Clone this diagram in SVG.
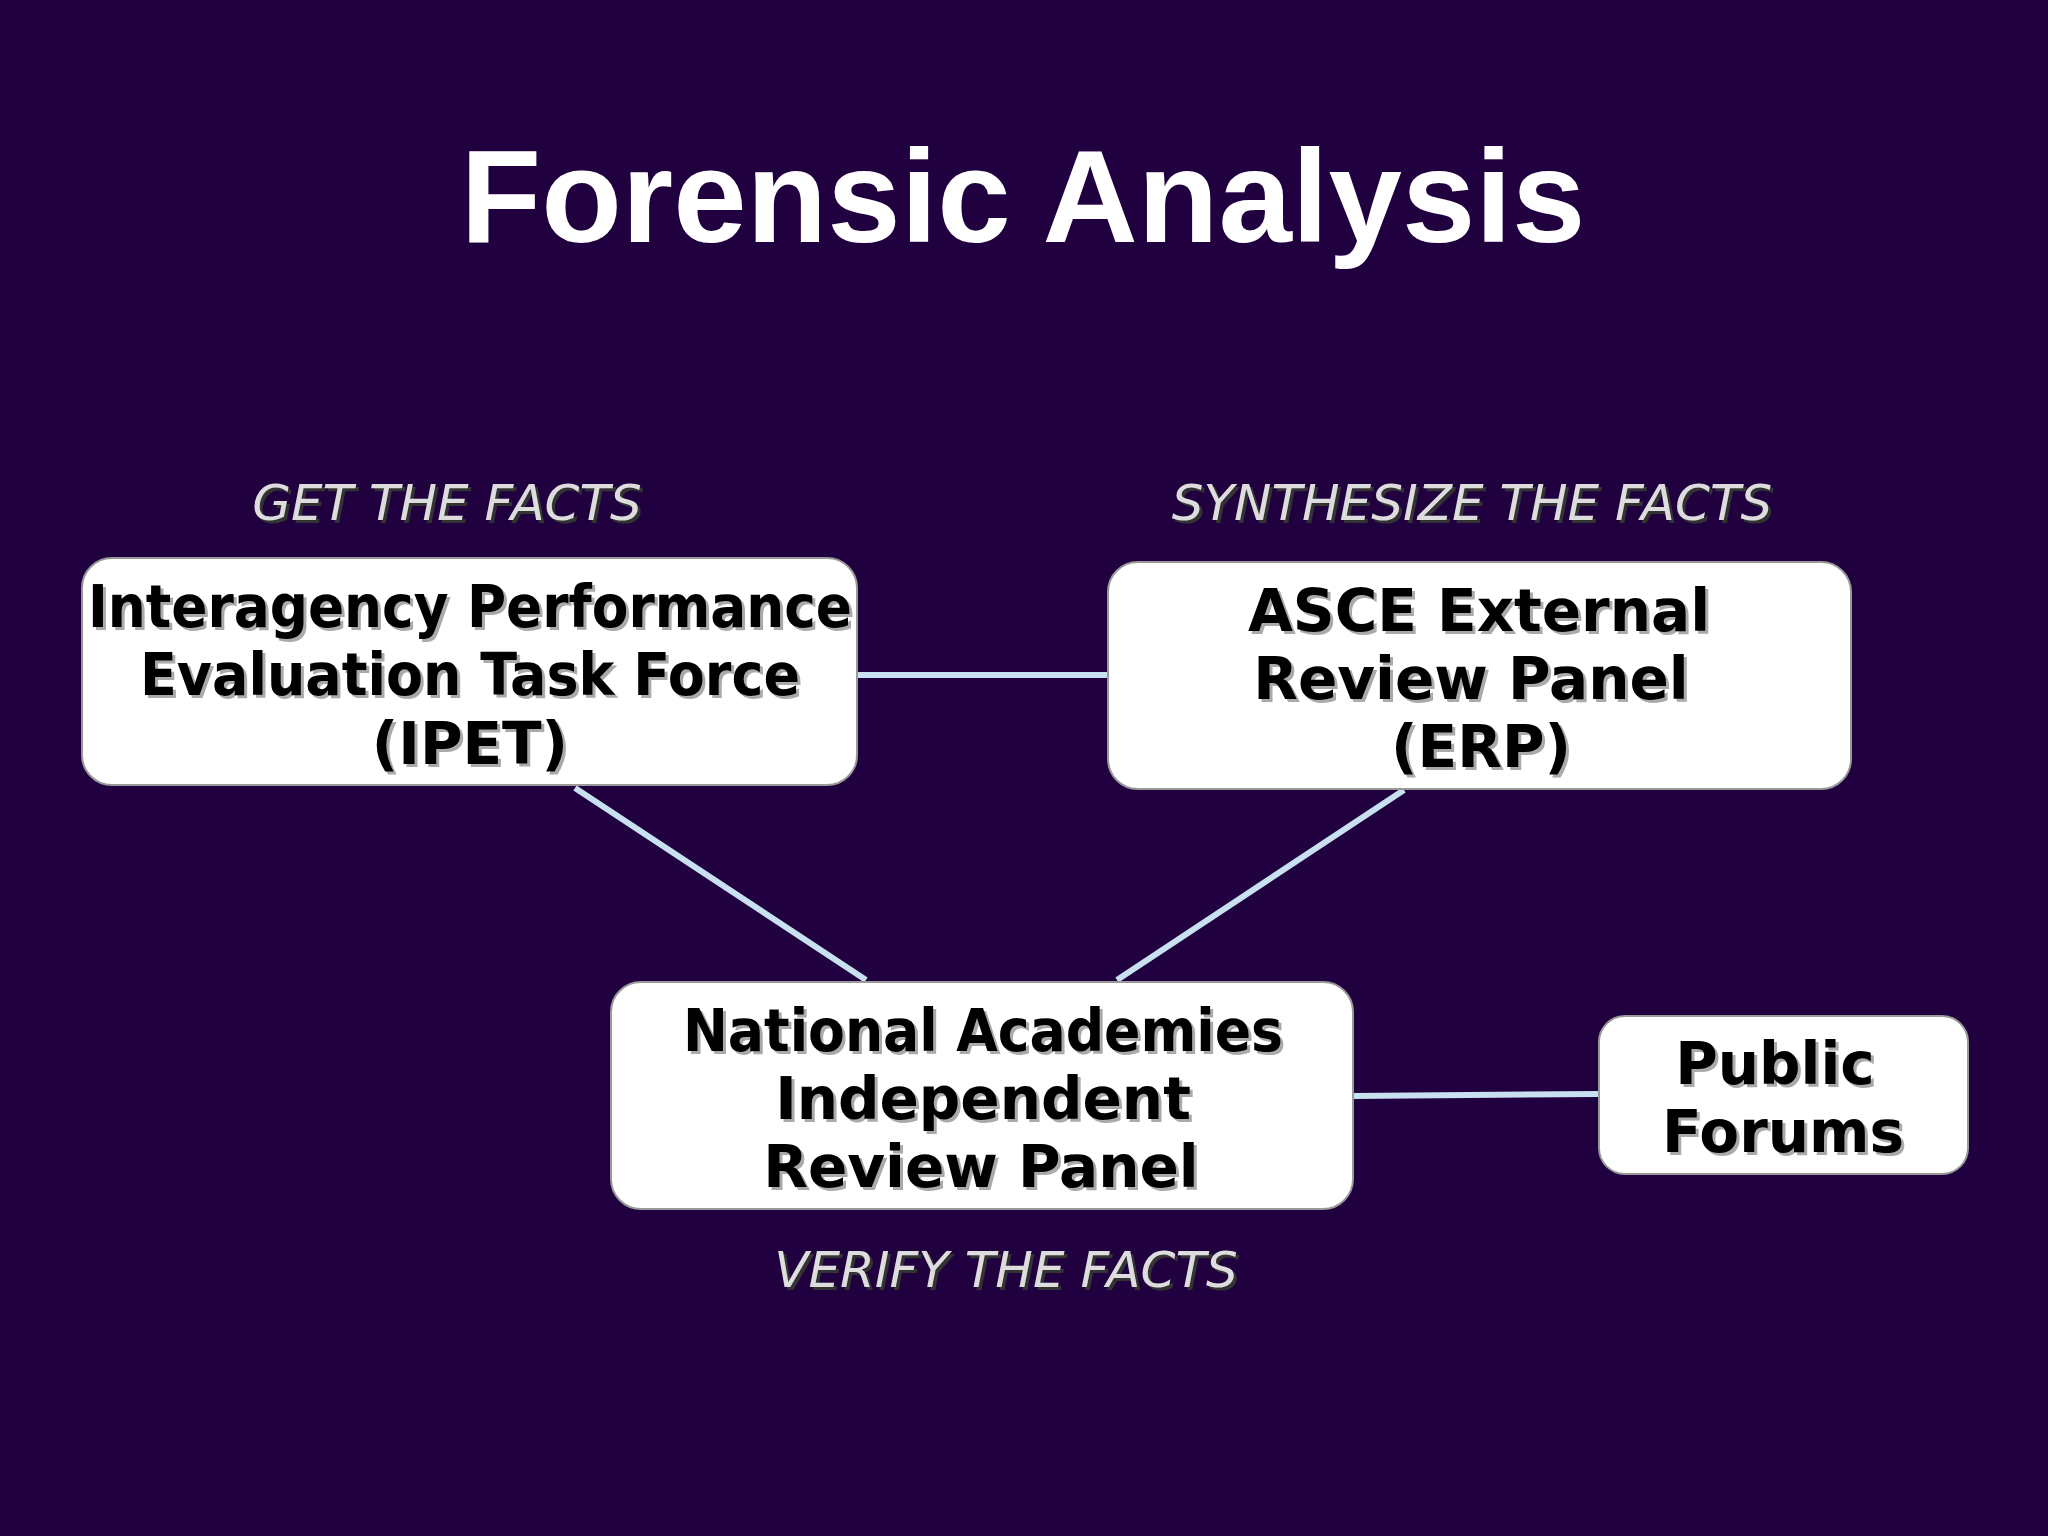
<svg xmlns="http://www.w3.org/2000/svg" width="2048" height="1536" viewBox="0 0 2048 1536">
<style>
.box{fill:#fff;stroke:#999;stroke-width:2}
.t{font-family:"DejaVu Sans",sans-serif;font-weight:bold;font-size:58px;fill:#000;text-anchor:middle}
.ts{fill:#aaa}
.lab{font-family:"DejaVu Sans",sans-serif;font-style:italic;font-size:50px;fill:#ddd;text-anchor:middle}
.labs{fill:#333}
.c{stroke:#c8e0f0;stroke-width:6}
</style>
<rect width="2048" height="1536" fill="#20003f"/>
<text x="1023" y="242" font-family="Liberation Sans,Arial,sans-serif" font-weight="bold" font-size="132" fill="#fff" text-anchor="middle">Forensic Analysis</text>
<g id="connectors">
<line class="c" x1="857" y1="675" x2="1108" y2="675"/>
<line class="c" x1="575" y1="788" x2="866" y2="980"/>
<line class="c" x1="1404" y1="790" x2="1117" y2="980"/>
<line class="c" x1="1353" y1="1096" x2="1599" y2="1094"/>
</g>
<g id="labels">
<text class="lab labs" x="450" y="523">GET THE FACTS</text>
<text class="lab" x="447" y="520">GET THE FACTS</text>
<text class="lab labs" x="1475" y="523">SYNTHESIZE THE FACTS</text>
<text class="lab" x="1472" y="520">SYNTHESIZE THE FACTS</text>
<text class="lab labs" x="1009" y="1290">VERIFY THE FACTS</text>
<text class="lab" x="1006" y="1287">VERIFY THE FACTS</text>
</g>
<g id="ipet">
<rect class="box" x="82" y="558" width="775" height="227" rx="30"/>
<text class="t ts" x="473" y="630" textLength="764" lengthAdjust="spacingAndGlyphs">Interagency Performance</text>
<text class="t" x="470" y="627" textLength="764" lengthAdjust="spacingAndGlyphs">Interagency Performance</text>
<text class="t ts" x="473" y="698" textLength="660" lengthAdjust="spacingAndGlyphs">Evaluation Task Force</text>
<text class="t" x="470" y="695" textLength="660" lengthAdjust="spacingAndGlyphs">Evaluation Task Force</text>
<text class="t ts" x="473" y="767">(IPET)</text>
<text class="t" x="470" y="764">(IPET)</text>
</g>
<g id="erp">
<rect class="box" x="1108" y="562" width="743" height="227" rx="30"/>
<text class="t ts" x="1482" y="634">ASCE External</text>
<text class="t" x="1479" y="631">ASCE External</text>
<text class="t ts" x="1474" y="702">Review Panel</text>
<text class="t" x="1471" y="699">Review Panel</text>
<text class="t ts" x="1484" y="770">(ERP)</text>
<text class="t" x="1481" y="767">(ERP)</text>
</g>
<g id="nair">
<rect class="box" x="611" y="982" width="742" height="227" rx="30"/>
<text class="t ts" x="986" y="1054" textLength="600" lengthAdjust="spacingAndGlyphs">National Academies</text>
<text class="t" x="983" y="1051" textLength="600" lengthAdjust="spacingAndGlyphs">National Academies</text>
<text class="t ts" x="986" y="1122">Independent</text>
<text class="t" x="983" y="1119">Independent</text>
<text class="t ts" x="984" y="1190">Review Panel</text>
<text class="t" x="981" y="1187">Review Panel</text>
</g>
<g id="public">
<rect class="box" x="1599" y="1016" width="369" height="158" rx="26"/>
<text class="t ts" x="1778" y="1087">Public</text>
<text class="t" x="1775" y="1084">Public</text>
<text class="t ts" x="1786" y="1155">Forums</text>
<text class="t" x="1783" y="1152">Forums</text>
</g>
</svg>
